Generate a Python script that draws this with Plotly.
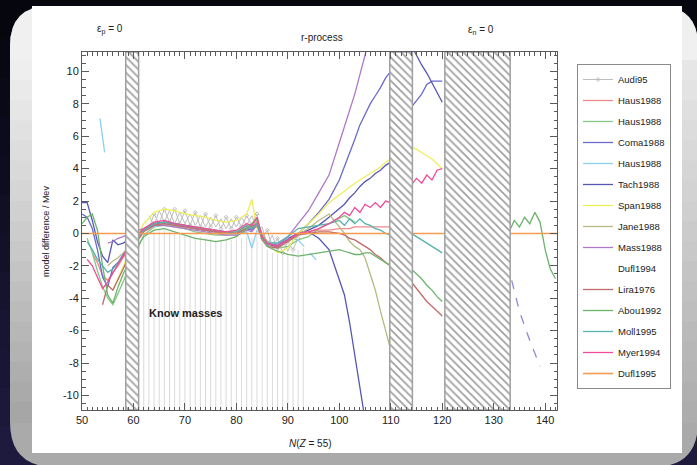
import plotly.graph_objects as go

NA = None

# ---------------- x grids (neutron number N) ----------------
N_L = [50, 51, 52, 53, 54, 55, 56, 57, 58, 60]
N_M = [62, 64, 66, 68, 70, 72, 74, 76, 78, 80, 82, 83, 84, 85, 86, 88, 90, 92]
N_R = [94, 96, 98, 100, 101, 102, 103, 104, 105, 106, 107, 108, 109, 110]
N_A = [114, 115, 116, 117, 118, 119, 120]
N_B = [133, 134, 135, 136, 137, 138, 139, 140, 141, 142]

# ---------------- model differences (MeV) ----------------
haus1_l = [NA, NA, -1.2, -1.8, -2.6, -2.9, -2.4, -2.0, -1.5, -0.6]
haus1_m = [0.3, 0.6, 0.7, 0.6, 0.5, 0.4, 0.3, 0.2, 0.1, 0.1, 0.4, 0.3, 0.7, 0.0, -0.5, -0.7, -0.4, 0.0]
haus1_r = [0.1, 0.2, 0.2, 0.3, 0.3, 0.3, 0.4, 0.4, 0.4, 0.4, 0.4, 0.4, 0.4, 0.4]

haus2_l = [NA, -0.3, -1.2, -2.3, -3.3, -4.0, -4.4, -3.7, -3.0, -1.5]
haus2_m = [-0.1, 0.4, 0.5, 0.4, 0.3, 0.1, 0.0, -0.1, -0.1, 0.0, 0.4, 0.6, 0.9, -0.1, -0.5, -0.9, -0.8, -0.4]
haus2_r = [-0.2, 0.3, 0.6, 0.9, 1.1, 0.9, 0.7, NA, NA, NA, NA, NA, NA, NA]

coma_l = [1.2, 1.0, 0.3, -1.0, -2.7, -3.3, -2.1, -1.8, -1.3, -0.5]
coma_m = [0.2, 0.5, 0.6, 0.5, 0.4, 0.3, 0.2, 0.1, 0.0, 0.0, 0.3, 0.2, 0.6, -0.2, -0.6, -0.8, -0.3, 0.0]
coma_r = [0.6, 1.3, 2.1, 3.3, 4.1, 5.0, 5.8, 6.7, 7.3, 8.0, 8.5, 9.0, 9.6, 10.0]
coma_a = [7.8, 8.2, 8.6, 9.2, 9.4, 9.4, 9.4]

haus3_seg_n = [53.5, 54.4]
haus3_seg_y = [7.1, 5.0]
haus3_m = [NA, 0.4, 0.6, 0.5, 0.4, 0.3, 0.2, 0.1, 0.0, -0.1, 0.1, -0.9, 0.2, -0.2, -0.5, -0.6, -0.3, -0.4]
haus3_dash_n = [92, 94, 96]
haus3_dash_y = [-0.4, -1.1, -1.8]

tach_l = [1.9, 1.9, 0.8, -0.5, -1.4, -1.8, -0.4, -0.7, -0.6, -0.2]
tach_m = [0.2, 0.6, 0.7, 0.6, 0.5, 0.3, 0.2, 0.1, 0.1, 0.0, 0.4, 0.3, 0.7, -0.3, -0.7, -0.8, -0.4, 0.0]
tach_r = [0.2, 0.5, 1.0, 1.5, 1.8, 2.2, 2.5, 2.9, 3.2, 3.4, 3.7, 3.9, 4.2, 4.4]
tach_down_n = [94, 96, 98, 100, 101, 102, 103, 104, 105]
tach_down_y = [0.1, -0.3, -1.0, -2.8, -3.8, -5.5, -7.5, -9.6, -11.5]
tach_a = [11.6, 11.0, 10.4, 9.9, 9.3, 8.7, 8.1]

span_l = [NA, NA, NA, NA, NA, NA, -3.5, -2.8, -2.0, -0.6]
span_m = [0.6, 1.3, 1.5, 1.4, 1.2, 1.1, 1.0, 0.8, 0.7, 0.8, 1.2, 2.1, 0.3, -0.2, -0.6, -1.2, -0.9, 0.0]
span_r = [0.6, 1.2, 1.9, 2.4, 2.6, 2.9, 3.1, 3.3, 3.5, 3.7, 3.9, 4.1, 4.4, 4.6]
span_a = [5.3, 5.2, 5.0, 4.8, 4.6, 4.3, 4.0]

jane_l = [NA, NA, NA, NA, NA, -2.0, -1.7, -1.5, -1.2, -0.5]
jane_m = [0.2, 0.5, 0.6, 0.5, 0.4, 0.3, 0.2, 0.1, 0.0, 0.0, 0.4, 0.3, 0.8, -0.1, -0.5, -0.8, -0.5, -0.1]
jane_r = [0.3, 0.8, 1.2, 0.4, 0.0, -0.5, -0.8, -1.0, -1.5, -2.5, -3.5, -4.8, -6.0, -7.2]

mass_l = [NA, NA, NA, NA, NA, -0.6, -0.5, -0.3, -0.2, 0.1]
mass_m = [0.3, 0.5, 0.5, 0.4, 0.3, 0.2, 0.1, 0.0, -0.1, -0.1, 0.2, 0.1, 0.5, -0.3, -0.7, -0.7, -0.2, 0.6]
mass_r = [1.4, 2.5, 3.6, 5.6, 6.6, 7.6, 8.6, 9.8, 11.0, 12.5, NA, NA, NA, NA]
mass_dash_n = [133.5, 135, 137, 139]
mass_dash_y = [-2.9, -4.8, -6.6, -8.2]

dufl94_m = [0.1, 0.4, 0.5, 0.4, 0.3, 0.2, 0.1, 0.0, -0.1, -0.1, 0.2, 0.1, 0.5, -0.4, -0.8, -0.9, -0.6, -0.2]

lira_l = [NA, NA, NA, NA, -4.4, -3.2, -3.5, -2.9, -2.2, -0.8]
lira_m = [0.1, 0.5, 0.6, 0.5, 0.4, 0.3, 0.2, 0.1, 0.0, 0.0, 0.3, 0.5, 0.6, -0.4, -0.8, -0.9, -0.5, -0.1]
lira_r = [0.0, 0.1, 0.1, 0.0, -0.1, -0.3, -0.4, -0.6, -0.8, -1.0, -1.3, -1.5, -1.8, -2.0]
lira_a = [-3.0, -3.4, -3.8, -4.2, -4.5, -4.8, -5.1]

abou_l = [0.6, 1.0, 1.2, 0.2, -2.0, -3.8, -4.3, -3.3, -2.5, -1.2]
abou_m = [-0.2, 0.2, 0.3, 0.1, -0.1, -0.3, -0.4, -0.5, -0.4, -0.2, 0.3, 0.6, 0.9, -0.3, -0.8, -1.1, -1.3, -1.4]
abou_r = [-1.3, -1.2, -1.1, -1.0, -1.1, -1.2, -1.3, -1.3, -1.2, -1.2, -1.4, -1.6, -1.8, -2.0]
abou_a = [-2.2, -2.5, -2.8, -3.2, -3.5, -3.9, -4.2]
abou_b = [0.1, 0.8, 0.4, 1.0, 0.6, 1.3, 0.7, -1.0, -2.2, -2.8]

moll_l = [NA, -0.5, -1.0, -1.6, -2.0, -2.4, -2.2, -1.8, -1.4, -0.6]
moll_m = [0.2, 0.6, 0.7, 0.6, 0.5, 0.4, 0.3, 0.2, 0.1, 0.1, 0.5, 0.3, 0.6, -0.2, -0.6, -0.6, -0.2, 0.3]
moll_r = [0.4, 0.5, 0.6, 0.8, 0.5, 0.9, 0.6, 0.9, 0.6, 0.5, 0.3, 0.2, 0.0, -0.1]
moll_a = [0.0, -0.2, -0.4, -0.6, -0.8, -1.0, -1.2]

myer_l = [NA, -1.6, -2.0, -2.7, -3.4, -3.0, -2.4, -1.9, -1.4, -0.4]
myer_m = [0.3, 0.7, 0.8, 0.6, 0.5, 0.4, 0.3, 0.2, 0.1, 0.2, 0.6, 0.5, 1.0, -0.2, -0.6, -0.8, -0.4, 0.0]
myer_r = [0.1, 0.3, 0.6, 1.0, 1.3, 1.1, 1.6, 1.3, 1.8, 1.6, 1.9, 1.6, 2.0, 1.9]
myer_a = [3.0, 3.4, 3.1, 3.6, 3.3, 3.9, 4.0]

dufl95_n = [50, 143]
dufl95_y = [0, 0]

AUDI_N = list(range(63, 93))
AUDI_Y = [0.3, 1.2, 0.6, 1.5, 0.7, 1.5, 0.6, 1.4, 0.5, 1.3, 0.4, 1.2, 0.4, 1.1, 0.3,
          1.0, 0.3, 1.0, 0.4, 1.1, 0.5, 1.2, -0.3, 0.2, -0.9, -0.3, -1.2, -0.5, -1.0, -0.3]
AUDI_Y2 = [1.1, 0.5, 1.4, 0.7, 1.4, 0.6, 1.3, 0.6, 1.2, 0.5, 1.1, 0.4, 1.0, 0.4, 0.9,
           0.3, 0.9, 0.4, 1.0, 0.5, 1.1, 0.3, 0.4, -0.7, -0.1, -1.1, -0.4, -1.1, -0.4, -0.2]

KNOWN_N = list(range(62, 94))
KNOWN_TOP = [-0.2, -0.2, 0.1, 0.2, 0.2, 0.1, 0.0, 0.0, -0.1, -0.1, -0.2, -0.2, -0.3, -0.3, -0.4, -0.4,
             -0.4, -0.4, -0.3, -0.3, -0.2, -0.3, 0.0, -0.6, -1.0, -1.2, -1.3, -1.3, -1.2, -1.1, -1.0, -0.9]

HATCH_START = [58.5, 109.8, 120.5]
HATCH_END = [61.0, 114.2, 133.2]

X_RANGE = [50, 142.3]
Y_RANGE = [-10.9, 11.2]
X_TICKS = [50, 60, 70, 80, 90, 100, 110, 120, 130, 140]
Y_TICKS = [-10, -8, -6, -4, -2, 0, 2, 4, 6, 8, 10]
Y_TICKTEXT = ["-10", "-8", "-6", "-4", "-2", "0", "2", "4", "6", "8", "10"]

LEGEND_NAMES = ["Audi95", "Haus1988", "Haus1988", "Coma1988", "Haus1988", "Tach1988", "Span1988",
                "Jane1988", "Mass1988", "Dufl1994", "Lira1976", "Abou1992", "Moll1995", "Myer1994", "Dufl1995"]
COLORS = ["#bdbdbd", "#f08a8a", "#86c886", "#6a6acb", "#8ccfee", "#5656b4", "#eeee5a",
          "#b8b880", "#b078c8", "#ffffff", "#c06a6a", "#6cb46c", "#56b2aa", "#f04c98", "#f59a4e"]

# ---------------- helpers ----------------
W, H = 697, 465
L, R, T, B = 82, 140, 52, 55
PW, PH = W - L - R, H - T - B
FONT = "Liberation Sans, Arial, sans-serif"


def xp(px):
    return (px - L) / PW


def yp(py):
    return (H - B - py) / PH


def build(l=None, m=None, r=None, a=None, b=None, pre=None):
    xs, ys = [], []
    if pre:
        xs += list(pre[0]) + [None]
        ys += list(pre[1]) + [None]
    for grid, vals in ((N_L, l), (N_M, m), (N_R, r), (N_A, a)):
        if vals is None:
            xs.append(None); ys.append(None)
        else:
            xs += grid; ys += vals
    if b is not None:
        xs += [None] + N_B
        ys += [None] + b
    return xs, ys


fig = go.Figure()

# known masses verticals
kx, ky = [], []
for n, top in zip(KNOWN_N, KNOWN_TOP):
    kx += [n, n, None]
    ky += [top, Y_RANGE[0], None]
fig.add_trace(go.Scatter(x=kx, y=ky, mode="lines", line=dict(color="#dadada", width=1),
                         showlegend=False, hoverinfo="skip"))


def add(rank, xs, ys, dash="solid", show=True, marker=None, width=1.3, color=None):
    i = rank - 1
    fig.add_trace(go.Scatter(
        x=xs, y=ys, name=LEGEND_NAMES[i], mode="lines+markers" if marker else "lines",
        line=dict(color=color or COLORS[i], width=width, dash=dash), marker=marker,
        legendgroup=f"g{rank}", legendrank=rank, showlegend=show, hoverinfo="skip"))


add(10, *build(m=dufl94_m))
add(1, AUDI_N, AUDI_Y2, show=False, width=1)
add(1, AUDI_N, AUDI_Y, width=1, marker=dict(symbol="diamond-open", size=3, color=COLORS[0]))
add(2, *build(haus1_l, haus1_m, haus1_r))
add(3, *build(haus2_l, haus2_m, haus2_r))
add(4, *build(coma_l, coma_m, coma_r, coma_a))
add(5, *build(None, haus3_m, pre=(haus3_seg_n, haus3_seg_y)))
add(5, haus3_dash_n, haus3_dash_y, dash="dash", show=False)
add(6, *build(tach_l, tach_m, tach_r))
add(6, tach_down_n + [None] + N_A, tach_down_y + [None] + tach_a, show=False)
add(7, *build(span_l, span_m, span_r, span_a))
add(8, *build(jane_l, jane_m, jane_r))
add(9, *build(mass_l, mass_m, mass_r))
add(9, mass_dash_n, mass_dash_y, dash="dash", show=False, color="#8e8ad6")
add(11, *build(lira_l, lira_m, lira_r, lira_a))
add(12, *build(abou_l, abou_m, abou_r, abou_a, abou_b))
add(13, *build(moll_l, moll_m, moll_r, moll_a))
add(14, *build(myer_l, myer_m, myer_r, myer_a))
add(15, dufl95_n, dufl95_y, width=1.6)

# hatched regions (overlay axes so they sit above the curves)
fig.add_trace(go.Bar(
    x=[(s + e) / 2 for s, e in zip(HATCH_START, HATCH_END)],
    width=[e - s for s, e in zip(HATCH_START, HATCH_END)],
    y=[Y_RANGE[1] - Y_RANGE[0]] * len(HATCH_START), base=[Y_RANGE[0]] * len(HATCH_START),
    marker=dict(color="white", line=dict(color="#a0a0a0", width=1.5),
                pattern=dict(shape="\\", fgcolor="#444444", size=5.5, solidity=0.33, fillmode="overlay")),
    xaxis="x2", yaxis="y2", showlegend=False, hoverinfo="skip"))


# ---------------- background (slide frame) ----------------
def mix(c1, c2, t):
    a = [int(c1[i:i + 2], 16) for i in (1, 3, 5)]
    b = [int(c2[i:i + 2], 16) for i in (1, 3, 5)]
    return "#" + "".join(f"{round(a[k] + (b[k] - a[k]) * t):02x}" for k in range(3))


def rect(x0, y0, x1, y1, color):
    return dict(type="rect", xref="paper", yref="paper", x0=xp(x0), x1=xp(x1), y0=yp(y0), y1=yp(y1),
                fillcolor=color, line_width=0, layer="below")


def pth(points, color):
    s = ""
    for cmd, pts in points:
        s += cmd + " " + " ".join(f"{xp(a):.5f},{yp(b):.5f}" for a, b in pts) + " "
    return dict(type="path", xref="paper", yref="paper", path=s + "Z", fillcolor=color,
                line_width=0, layer="below")


shapes = []
nb = 12
for i in range(nb):
    shapes.append(rect(0, H * i / nb, W, H * (i + 1) / nb + 1, mix("#06060e", "#1d1a3e", i / (nb - 1))))
panel = [("M", [(10, 46)]), ("Q", [(10, 6), (50, 6)]), ("L", [(658, 6)]), ("Q", [(698, 6), (698, 46)]),
         ("L", [(698, 422)]), ("Q", [(698, 467), (653, 467)]), ("L", [(55, 467)]), ("Q", [(10, 467), (10, 422)])]
shapes.append(pth(panel, "#aaaaaa"))
top = [("M", [(10, 46)]), ("Q", [(10, 6), (50, 6)]), ("L", [(658, 6)]), ("Q", [(698, 6), (698, 46)]),
       ("L", [(698, 62)]), ("L", [(10, 62)])]
shapes.append(pth(top, "#f0f0f0"))
ns = 18
for i in range(ns):
    y0 = 60 + (422 - 60) * i / ns
    y1 = 60 + (422 - 60) * (i + 1) / ns + 1
    shapes.append(rect(10, y0, 33, y1, mix("#eeeeee", "#a6a6a6", i / (ns - 1))))
    shapes.append(rect(681, y0, 698, y1, mix("#e6e6e6", "#adadad", i / (ns - 1))))
shapes.append(rect(32, 6, 682, 453, "#ffffff"))


# ---------------- annotations ----------------
def note(px, py, text, size=10, angle=0):
    return dict(xref="paper", yref="paper", x=xp(px), y=yp(py), text=text, showarrow=False,
                xanchor="center", yanchor="middle", textangle=angle,
                font=dict(family=FONT, size=size, color="#222222"))


annotations = [
    note(110, 30, "ε<sub>p</sub> = 0"),
    note(322, 37, "r-process"),
    note(481, 30, "ε<sub>n</sub> = 0"),
    note(46, 232, "model difference / Mev", size=9, angle=-90),
    note(310, 443, "<i>N</i>(<i>Z</i> = 55)", size=10),
    note(185, 313, "<b>Know masses</b>", size=11),
]

axis_common = dict(showline=True, linecolor="#5a5a5a", linewidth=1, mirror="allticks", ticks="inside",
                   ticklen=7, tickcolor="#5a5a5a", showgrid=False, zeroline=False,
                   tickfont=dict(family=FONT, size=11, color="#222222"))

fig.update_layout(
    width=W, height=H, margin=dict(l=L, r=R, t=T, b=B, pad=0), autosize=False,
    paper_bgcolor="#07070f", plot_bgcolor="#ffffff",
    xaxis=dict(range=X_RANGE, tickmode="array", tickvals=X_TICKS,
               minor=dict(ticks="inside", ticklen=3.5, dtick=1, tick0=50, tickcolor="#5a5a5a"),
               **axis_common),
    yaxis=dict(range=Y_RANGE, tickmode="array", tickvals=Y_TICKS, ticktext=Y_TICKTEXT,
               minor=dict(ticks="inside", ticklen=3.5, dtick=0.5, tick0=0, tickcolor="#5a5a5a"),
               **axis_common),
    xaxis2=dict(overlaying="x", range=X_RANGE, visible=False, anchor="y2"),
    yaxis2=dict(overlaying="y", range=Y_RANGE, visible=False, anchor="x2"),
    barmode="overlay",
    showlegend=True,
    legend=dict(x=xp(577), y=yp(64), xanchor="left", yanchor="top", bgcolor="#ffffff",
                bordercolor="#8a8a8a", borderwidth=1, traceorder="grouped", tracegroupgap=2,
                font=dict(family=FONT, size=9.5, color="#222222")),
    shapes=shapes, annotations=annotations,
)

fig.write_html("out.html")
